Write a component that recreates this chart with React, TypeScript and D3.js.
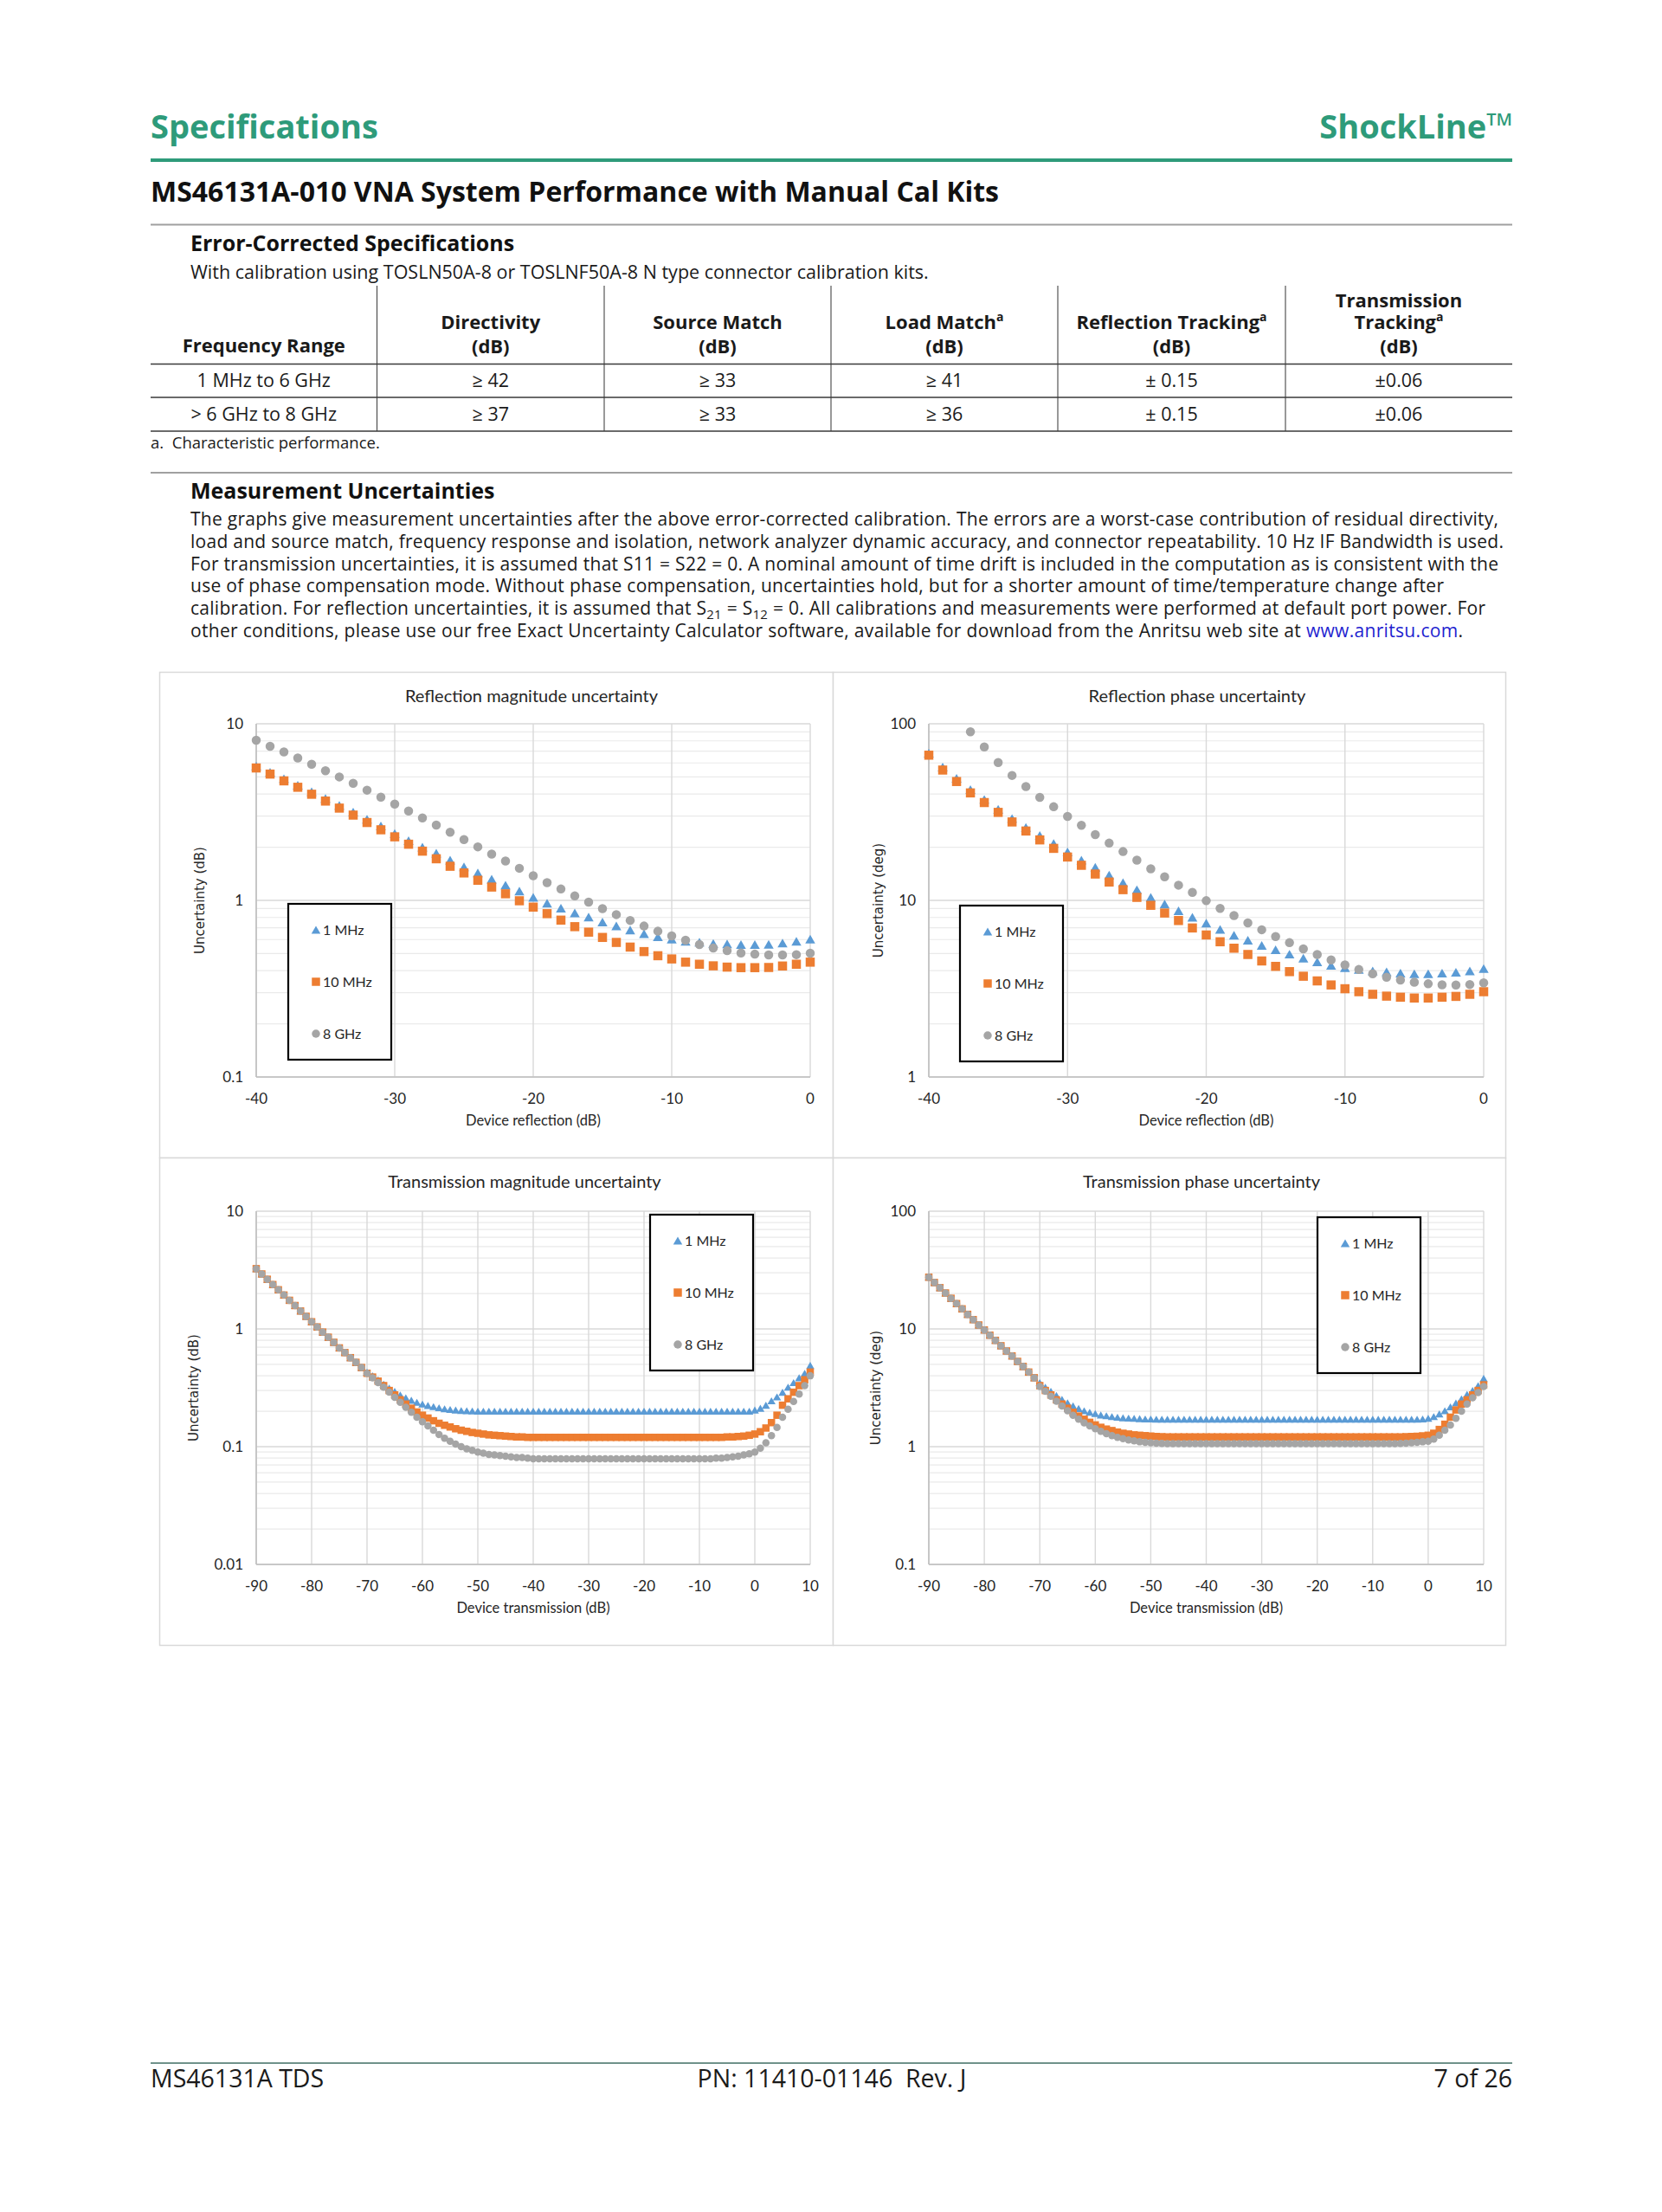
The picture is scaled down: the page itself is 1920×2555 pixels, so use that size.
import React from 'react';
import * as d3 from 'd3';

// ---------------- DATA ----------------
const REFL_X = [-40,-39,-38,-37,-36,-35,-34,-33,-32,-31,-30,-29,-28,-27,-26,-25,-24,-23,-22,-21,-20,-19,-18,-17,-16,-15,-14,-13,-12,-11,-10,-9,-8,-7,-6,-5,-4,-3,-2,-1,0];
const REFL_X_8GHZ_PHASE = [-37,-36,-35,-34,-33,-32,-31,-30,-29,-28,-27,-26,-25,-24,-23,-22,-21,-20,-19,-18,-17,-16,-15,-14,-13,-12,-11,-10,-9,-8,-7,-6,-5,-4,-3,-2,-1,0];

const RM_1MHZ = [5.76,5.32,4.89,4.49,4.12,3.78,3.45,3.16,2.88,2.64,2.39,2.18,2.00,1.85,1.69,1.55,1.43,1.32,1.22,1.13,1.04,0.964,0.904,0.848,0.805,0.755,0.716,0.680,0.647,0.622,0.604,0.587,0.580,0.571,0.567,0.562,0.562,0.564,0.574,0.587,0.603];
const RM_10MHZ = [5.62,5.19,4.75,4.37,3.99,3.65,3.33,3.04,2.76,2.51,2.29,2.08,1.90,1.72,1.56,1.43,1.30,1.19,1.09,0.995,0.916,0.841,0.773,0.710,0.661,0.617,0.578,0.544,0.513,0.486,0.466,0.447,0.435,0.426,0.419,0.416,0.416,0.417,0.425,0.435,0.447];
const RM_8GHZ = [8.07,7.45,6.93,6.40,5.90,5.42,5.00,4.60,4.21,3.84,3.51,3.21,2.93,2.67,2.43,2.21,2.01,1.83,1.67,1.52,1.38,1.26,1.16,1.06,0.977,0.898,0.831,0.770,0.716,0.669,0.629,0.595,0.562,0.538,0.519,0.504,0.496,0.491,0.491,0.493,0.502];

const RP_1MHZ = [68.2,56.9,49.1,42.4,37.3,32.8,29.1,25.9,23.3,21.0,18.8,16.9,15.4,13.9,12.6,11.5,10.4,9.53,8.73,8.02,7.43,6.85,6.35,5.95,5.56,5.25,4.96,4.71,4.49,4.29,4.16,4.06,3.99,3.94,3.87,3.84,3.84,3.87,3.92,3.99,4.11];
const RP_10MHZ = [66.4,54.7,47.1,40.6,35.8,31.5,27.8,24.7,22.0,19.7,17.6,15.8,14.1,12.7,11.5,10.4,9.38,8.48,7.69,6.98,6.37,5.83,5.36,4.94,4.54,4.23,3.95,3.72,3.50,3.32,3.16,3.04,2.94,2.87,2.83,2.80,2.80,2.83,2.86,2.94,3.04];
const RP_8GHZ = [90.1,74.0,60.4,51.0,44.1,38.3,33.9,29.9,26.6,23.6,21.1,18.9,16.9,15.1,13.6,12.2,11.1,9.96,9.01,8.21,7.45,6.82,6.24,5.76,5.32,4.94,4.60,4.31,4.06,3.84,3.67,3.54,3.44,3.37,3.33,3.32,3.34,3.41];

const TRANS_X = [-90,-89,-88,-87,-86,-85,-84,-83,-82,-81,-80,-79,-78,-77,-76,-75,-74,-73,-72,-71,-70,-69,-68,-67,-66,-65,-64,-63,-62,-61,-60,-59,-58,-57,-56,-55,-54,-53,-52,-51,-50,-49,-48,-47,-46,-45,-44,-43,-42,-41,-40,-39,-38,-37,-36,-35,-34,-33,-32,-31,-30,-29,-28,-27,-26,-25,-24,-23,-22,-21,-20,-19,-18,-17,-16,-15,-14,-13,-12,-11,-10,-9,-8,-7,-6,-5,-4,-3,-2,-1,0,1,2,3,4,5,6,7,8,9,10];

const TM_1MHZ = [
  3.25,2.93,2.64,2.38,2.15,1.94,1.75,1.58,1.42,1.28,
  1.15,1.04,0.94,0.85,0.77,0.69,0.63,0.57,0.52,0.47,
  0.43,0.40,0.37,0.34,0.315,0.295,0.275,0.26,0.248,0.238,
  0.23,0.224,0.219,0.214,0.21,0.207,0.205,0.203,0.202,0.201,
  0.2,0.2,0.2,0.2,0.2,0.2,0.2,0.2,0.2,0.2,
  0.2,0.2,0.2,0.2,0.2,0.2,0.2,0.2,0.2,0.2,
  0.2,0.2,0.2,0.2,0.2,0.2,0.2,0.2,0.2,0.2,
  0.2,0.2,0.2,0.2,0.2,0.2,0.2,0.2,0.2,0.2,
  0.2,0.2,0.2,0.2,0.2,0.2,0.2,0.2,0.2,0.2,
  0.205,0.212,0.225,0.245,0.265,0.29,0.32,0.35,0.385,0.42,
  0.49];
const TM_10MHZ = [
  3.25,2.93,2.64,2.38,2.15,1.94,1.75,1.58,1.42,1.28,
  1.15,1.04,0.94,0.85,0.77,0.69,0.63,0.57,0.52,0.47,
  0.42,0.39,0.36,0.33,0.30,0.275,0.25,0.23,0.212,0.197,
  0.185,0.175,0.166,0.158,0.152,0.147,0.142,0.138,0.135,0.132,
  0.13,0.128,0.126,0.125,0.124,0.123,0.122,0.121,0.121,0.12,
  0.12,0.12,0.12,0.12,0.12,0.12,0.12,0.12,0.12,0.12,
  0.12,0.12,0.12,0.12,0.12,0.12,0.12,0.12,0.12,0.12,
  0.12,0.12,0.12,0.12,0.12,0.12,0.12,0.12,0.12,0.12,
  0.12,0.12,0.12,0.12,0.12,0.121,0.121,0.122,0.123,0.125,
  0.128,0.134,0.144,0.16,0.185,0.225,0.255,0.29,0.33,0.37,
  0.43];
const TM_8GHZ = [
  3.25,2.93,2.64,2.38,2.15,1.94,1.75,1.58,1.42,1.28,
  1.15,1.04,0.94,0.85,0.77,0.69,0.63,0.57,0.52,0.47,
  0.42,0.385,0.35,0.32,0.29,0.262,0.238,0.216,0.196,0.178,
  0.163,0.15,0.138,0.127,0.118,0.111,0.105,0.1,0.096,0.093,
  0.09,0.088,0.086,0.085,0.084,0.083,0.082,0.081,0.081,0.08,
  0.079,0.079,0.079,0.079,0.079,0.079,0.079,0.079,0.079,0.079,
  0.079,0.079,0.079,0.079,0.079,0.079,0.079,0.079,0.079,0.079,
  0.079,0.079,0.079,0.079,0.079,0.079,0.079,0.079,0.079,0.079,
  0.079,0.079,0.079,0.08,0.08,0.081,0.082,0.083,0.085,0.087,
  0.09,0.097,0.108,0.124,0.146,0.178,0.208,0.242,0.28,0.33,
  0.40];

const TP_1MHZ = [
  27.5,24.8,22.4,20.2,18.2,16.4,14.8,13.3,12.0,10.8,
  9.8,8.85,8.0,7.2,6.5,5.9,5.3,4.8,4.3,3.85,
  3.5,3.2,2.95,2.72,2.52,2.36,2.22,2.11,2.02,1.96,
  1.91,1.86,1.83,1.8,1.78,1.76,1.75,1.74,1.73,1.72,
  1.72,1.71,1.71,1.71,1.71,1.71,1.71,1.71,1.71,1.71,
  1.71,1.71,1.71,1.71,1.71,1.71,1.71,1.71,1.71,1.71,
  1.71,1.71,1.71,1.71,1.71,1.71,1.71,1.71,1.71,1.71,
  1.71,1.71,1.71,1.71,1.71,1.71,1.71,1.71,1.71,1.71,
  1.71,1.71,1.71,1.71,1.71,1.71,1.71,1.71,1.71,1.72,
  1.74,1.8,1.9,2.02,2.18,2.35,2.55,2.78,3.0,3.3,
  3.8];
const TP_10MHZ = [
  27.5,24.8,22.4,20.2,18.2,16.4,14.8,13.3,12.0,10.8,
  9.8,8.85,8.0,7.2,6.5,5.9,5.3,4.8,4.3,3.85,
  3.3,3.0,2.75,2.5,2.3,2.12,1.96,1.82,1.71,1.61,
  1.53,1.46,1.41,1.37,1.33,1.3,1.28,1.26,1.25,1.24,
  1.23,1.22,1.215,1.21,1.21,1.21,1.21,1.21,1.21,1.21,
  1.21,1.21,1.21,1.21,1.21,1.21,1.21,1.21,1.21,1.21,
  1.21,1.21,1.21,1.21,1.21,1.21,1.21,1.21,1.21,1.21,
  1.21,1.21,1.21,1.21,1.21,1.21,1.21,1.21,1.21,1.21,
  1.21,1.21,1.21,1.21,1.21,1.21,1.215,1.22,1.225,1.235,
  1.25,1.3,1.4,1.55,1.78,2.05,2.3,2.5,2.75,3.0,
  3.35];
const TP_8GHZ = [
  27.5,24.8,22.4,20.2,18.2,16.4,14.8,13.3,12.0,10.8,
  9.8,8.85,8.0,7.2,6.5,5.9,5.3,4.8,4.3,3.85,
  3.25,2.95,2.68,2.43,2.22,2.02,1.85,1.71,1.59,1.5,
  1.42,1.35,1.29,1.24,1.2,1.17,1.14,1.12,1.1,1.09,
  1.08,1.07,1.065,1.06,1.06,1.06,1.06,1.06,1.06,1.06,
  1.06,1.06,1.06,1.06,1.06,1.06,1.06,1.06,1.06,1.06,
  1.06,1.06,1.06,1.06,1.06,1.06,1.06,1.06,1.06,1.06,
  1.06,1.06,1.06,1.06,1.06,1.06,1.06,1.06,1.06,1.06,
  1.06,1.06,1.06,1.06,1.06,1.065,1.07,1.08,1.09,1.1,
  1.11,1.16,1.25,1.38,1.53,1.74,2.0,2.3,2.6,2.88,
  3.25];

const SERIES_NAMES = ['1 MHz', '10 MHz', '8 GHz'];
const REFL_X_TICKS = [-40, -30, -20, -10, 0];
const TRANS_X_TICKS = [-90, -80, -70, -60, -50, -40, -30, -20, -10, 0, 10];

const TABLE_HEAD = [
  ['Frequency Range'],
  ['Directivity', '(dB)'],
  ['Source Match', '(dB)'],
  ['Load Match|a', '(dB)'],
  ['Reflection Tracking|a', '(dB)'],
  ['Transmission', 'Tracking|a', '(dB)'],
];
const TABLE_ROWS = [
  ['1 MHz to 6 GHz', '≥ 42', '≥ 33', '≥ 41', '± 0.15', '±0.06'],
  ['> 6 GHz to 8 GHz', '≥ 37', '≥ 33', '≥ 36', '± 0.15', '±0.06'],
];

// ---------------- STYLE ----------------
const GREEN = '#2E9B7A';
const C_BLUE = '#5B9BD5';
const C_ORANGE = '#ED7D31';
const C_GRAY = '#A5A5A5';
const DOC_FONT = "'Open Sans', 'Noto Sans', sans-serif";
const CHART_FONT = "Lato, 'Open Sans', sans-serif";

type Kind = 'tri' | 'sq' | 'circ';

function Marker({ kind, cx, cy, s, color }: { kind: Kind; cx: number; cy: number; s: number; color: string }) {
  if (kind === 'circ') return <circle cx={cx} cy={cy} r={s / 2} fill={color} />;
  if (kind === 'sq') return <rect x={cx - s / 2} y={cy - s / 2} width={s} height={s} fill={color} />;
  const h = s * 0.95;
  return <path d={`M${cx},${cy - h / 2}L${cx + s / 2 + 0.5},${cy + h / 2}L${cx - s / 2 - 0.5},${cy + h / 2}Z`} fill={color} />;
}

type ChartProps = {
  cell: [number, number, number, number];
  plot: { x0: number; x1: number; y0: number; y1: number };
  xDomain: [number, number];
  xTicks: number[];
  yDomain: [number, number];
  title: string;
  titleX: number;
  xTitle: string;
  yTitle: string;
  yTitleX: number;
  series: { x: number[]; y: number[]; kind: Kind; color: string; name: string }[];
  legend: [number, number];
  ms: number;
};

function fmt(v: number) {
  if (v >= 1) return String(Math.round(v));
  return String(+v.toPrecision(1));
}

function Chart(p: ChartProps) {
  const x = d3.scaleLinear().domain(p.xDomain).range([p.plot.x0, p.plot.x1]);
  const y = d3.scaleLog().domain(p.yDomain).range([p.plot.y1, p.plot.y0]);
  const majors: number[] = [];
  const minors: number[] = [];
  for (let d = p.yDomain[0]; d <= p.yDomain[1] * 1.0001; d *= 10) {
    majors.push(+d.toPrecision(3));
    if (d < p.yDomain[1] * 0.999) for (let k = 2; k <= 9; k++) minors.push(+(k * d).toPrecision(3));
  }
  const [cx, cy, cw, ch] = p.cell;
  const pc = (p.plot.y0 + p.plot.y1) / 2;
  const [lx, ly] = p.legend;
  return (
    <g>
      <rect x={cx + 0.5} y={cy + 0.5} width={cw} height={ch} fill="#fff" stroke="#D9D9D9" strokeWidth={1.5} />
      <text x={p.titleX} y={cy + 35} textAnchor="middle" fontFamily={CHART_FONT} fontSize={20} fill="#262626">{p.title}</text>
      {minors.map((v, i) => (
        <line key={'mn' + i} x1={p.plot.x0} x2={p.plot.x1} y1={y(v)} y2={y(v)} stroke="#EAEAEA" strokeWidth={1.2} />
      ))}
      {p.xTicks.map((t) => (
        <line key={'vx' + t} x1={x(t)} x2={x(t)} y1={p.plot.y0} y2={p.plot.y1} stroke="#D9D9D9" strokeWidth={1.4} />
      ))}
      {majors.map((v, i) => (
        <line key={'mj' + i} x1={p.plot.x0} x2={p.plot.x1} y1={y(v)} y2={y(v)} stroke="#D9D9D9" strokeWidth={1.4} />
      ))}
      <line x1={p.plot.x0} x2={p.plot.x0} y1={p.plot.y0} y2={p.plot.y1} stroke="#BFBFBF" strokeWidth={1.6} />
      <line x1={p.plot.x0} x2={p.plot.x1} y1={p.plot.y1} y2={p.plot.y1} stroke="#BFBFBF" strokeWidth={1.6} />
      {majors.map((v, i) => (
        <text key={'yl' + i} x={p.plot.x0 - 15} y={y(v) + 6} textAnchor="end" fontFamily={CHART_FONT} fontSize={17} fill="#262626">{fmt(v)}</text>
      ))}
      {p.xTicks.map((t) => (
        <text key={'xl' + t} x={x(t)} y={p.plot.y1 + 31} textAnchor="middle" fontFamily={CHART_FONT} fontSize={17} fill="#262626">{t}</text>
      ))}
      <text x={(p.plot.x0 + p.plot.x1) / 2} y={p.plot.y1 + 56} textAnchor="middle" fontFamily={CHART_FONT} fontSize={16.5} fill="#262626">{p.xTitle}</text>
      <text transform={`translate(${p.yTitleX},${pc}) rotate(-90)`} textAnchor="middle" dominantBaseline="central" fontFamily="'DejaVu Sans', Verdana, sans-serif" fontSize={15} fill="#262626">{p.yTitle}</text>
      {p.series.map((s, si) => (
        <g key={'s' + si}>
          {s.x.map((xv, i) => {
            const v = s.y[i];
            if (v === undefined || v < p.yDomain[0] || v > p.yDomain[1]) return null;
            return <Marker key={i} kind={s.kind} cx={x(xv)} cy={y(v)} s={p.ms} color={s.color} />;
          })}
        </g>
      ))}
      <rect x={lx} y={ly} width={119} height={180} fill="#fff" stroke="#000" strokeWidth={2.2} />
      {p.series.map((s, si) => (
        <g key={'lg' + si}>
          <Marker kind={s.kind} cx={lx + 32} cy={ly + 30 + si * 60} s={9.5} color={s.color} />
          <text x={lx + 40} y={ly + 36 + si * 60} fontFamily={CHART_FONT} fontSize={16} fill="#262626">{s.name}</text>
        </g>
      ))}
    </g>
  );
}

function HeadCell({ lines, cx }: { lines: string[]; cx: number }) {
  const ys = lines.length === 3 ? [355, 380, 408] : lines.length === 2 ? [380, 408] : [407];
  return (
    <>
      {lines.map((l, i) => {
        const [main, sup] = l.split('|');
        return (
          <text key={i} x={cx} y={ys[i]} textAnchor="middle" fontFamily={DOC_FONT} fontWeight={700} fontSize={22} fill="#1a1a1a">
            {main}
            {sup ? <tspan fontSize={14} dy={-9}>{sup}</tspan> : null}
          </text>
        );
      })}
    </>
  );
}

const PARA_LINES = [
  'The graphs give measurement uncertainties after the above error-corrected calibration. The errors are a worst-case contribution of residual directivity,',
  'load and source match, frequency response and isolation, network analyzer dynamic accuracy, and connector repeatability. 10 Hz IF Bandwidth is used.',
  'For transmission uncertainties, it is assumed that S11 = S22 = 0. A nominal amount of time drift is included in the computation as is consistent with the',
  'use of phase compensation mode. Without phase compensation, uncertainties hold, but for a shorter amount of time/temperature change after',
];

export default function App() {
  const colX = [174, 435.5, 698, 960, 1222, 1485, 1747];
  const mkSeries = (xs: number[][], ys: number[][]) => [
    { x: xs[0], y: ys[0], kind: 'tri' as Kind, color: C_BLUE, name: SERIES_NAMES[0] },
    { x: xs[1], y: ys[1], kind: 'sq' as Kind, color: C_ORANGE, name: SERIES_NAMES[1] },
    { x: xs[2], y: ys[2], kind: 'circ' as Kind, color: C_GRAY, name: SERIES_NAMES[2] },
  ];
  const paraEnds = [1731, 1737, 1731, 1668];
  const PF = 21;
  return (
    <svg width={1920} height={2555} style={{ position: 'absolute', left: 0, top: 0, background: '#fff' }} xmlns="http://www.w3.org/2000/svg">
      <rect x={0} y={0} width={1920} height={2555} fill="#fff" />
      {/* Header */}
      <text x={174} y={160} fontFamily={DOC_FONT} fontWeight={700} fontSize={38} fill={GREEN}>Specifications</text>
      <text x={1747} y={160} textAnchor="end" fontFamily={DOC_FONT} fontWeight={700} fontSize={38} fill={GREEN}>
        ShockLine<tspan fontSize={20} fontWeight={600} dy={-15}>TM</tspan>
      </text>
      <rect x={174} y={183} width={1573} height={4} fill={GREEN} />
      <text x={174} y={233} fontFamily={DOC_FONT} fontWeight={700} fontSize={32} fill="#111">MS46131A-010 VNA System Performance with Manual Cal Kits</text>
      <rect x={174} y={258.5} width={1573} height={2} fill="#A0A0A0" />
      <text x={220} y={290} fontFamily={DOC_FONT} fontWeight={700} fontSize={25} fill="#111">Error-Corrected Specifications</text>
      <text x={220} y={322} fontFamily={DOC_FONT} fontSize={21.5} fill="#1a1a1a">With calibration using TOSLN50A-8 or TOSLNF50A-8 N type connector calibration kits.</text>

      {/* Table */}
      {TABLE_HEAD.map((lines, i) => (
        <HeadCell key={i} lines={lines} cx={(colX[i] + colX[i + 1]) / 2} />
      ))}
      {colX.slice(1, 6).map((cx, i) => (
        <line key={'cv' + i} x1={cx} x2={cx} y1={330} y2={498} stroke="#444" strokeWidth={1.1} />
      ))}
      <line x1={174} x2={1747} y1={420.5} y2={420.5} stroke="#3a3a3a" strokeWidth={1.6} />
      <line x1={174} x2={1747} y1={459} y2={459} stroke="#3a3a3a" strokeWidth={1.3} />
      <line x1={174} x2={1747} y1={498} y2={498} stroke="#3a3a3a" strokeWidth={1.6} />
      {TABLE_ROWS.map((row, r) =>
        row.map((cell, c) => (
          <text key={r + '-' + c} x={(colX[c] + colX[c + 1]) / 2} y={r === 0 ? 447 : 486} textAnchor="middle" fontFamily={DOC_FONT} fontSize={21.5} fill="#1a1a1a">{cell}</text>
        ))
      )}
      <text x={174} y={518} fontFamily={DOC_FONT} fontSize={18.5} fill="#1a1a1a" style={{ whiteSpace: 'pre' }}>a.  Characteristic performance.</text>
      <rect x={174} y={545} width={1573} height={2} fill="#A0A0A0" />
      <text x={220} y={576} fontFamily={DOC_FONT} fontWeight={700} fontSize={25} fill="#111">Measurement Uncertainties</text>
      {PARA_LINES.map((l, i) => (
        <text key={'p' + i} x={220} y={607 + i * 25.8} fontFamily={DOC_FONT} fontSize={PF} fill="#1a1a1a" textLength={paraEnds[i] - 220} lengthAdjust="spacing">{l}</text>
      ))}
      <text x={220} y={607 + 4 * 25.8} fontFamily={DOC_FONT} fontSize={PF} fill="#1a1a1a" textLength={1716 - 220} lengthAdjust="spacing">
        calibration. For reflection uncertainties, it is assumed that S<tspan fontSize={15} dy={5}>21</tspan><tspan dy={-5}> = S</tspan><tspan fontSize={15} dy={5}>12</tspan><tspan dy={-5}> = 0. All calibrations and measurements were performed at default port power. For</tspan>
      </text>
      <text x={220} y={607 + 5 * 25.8} fontFamily={DOC_FONT} fontSize={PF} fill="#1a1a1a" textLength={1690 - 220} lengthAdjust="spacing">
        other conditions, please use our free Exact Uncertainty Calculator software, available for download from the Anritsu web site at <tspan fill="#1F1FD0">www.anritsu.com</tspan>.
      </text>

      {/* Charts */}
      <Chart
        cell={[184, 776, 778, 561]}
        plot={{ x0: 296, x1: 936, y0: 836, y1: 1244 }}
        xDomain={[-40, 0]} xTicks={REFL_X_TICKS} yDomain={[0.1, 10]}
        title="Reflection magnitude uncertainty" titleX={614}
        xTitle="Device reflection (dB)" yTitle="Uncertainty (dB)" yTitleX={231}
        series={mkSeries([REFL_X, REFL_X, REFL_X], [RM_1MHZ, RM_10MHZ, RM_8GHZ])}
        legend={[333, 1044]} ms={10.5}
      />
      <Chart
        cell={[962, 776, 777, 561]}
        plot={{ x0: 1073, x1: 1714, y0: 836, y1: 1244 }}
        xDomain={[-40, 0]} xTicks={REFL_X_TICKS} yDomain={[1, 100]}
        title="Reflection phase uncertainty" titleX={1383}
        xTitle="Device reflection (dB)" yTitle="Uncertainty (deg)" yTitleX={1015}
        series={mkSeries([REFL_X, REFL_X, REFL_X_8GHZ_PHASE], [RP_1MHZ, RP_10MHZ, RP_8GHZ])}
        legend={[1109, 1046]} ms={10.5}
      />
      <Chart
        cell={[184, 1337, 778, 563]}
        plot={{ x0: 296, x1: 936, y0: 1399, y1: 1807 }}
        xDomain={[-90, 10]} xTicks={TRANS_X_TICKS} yDomain={[0.01, 10]}
        title="Transmission magnitude uncertainty" titleX={606}
        xTitle="Device transmission (dB)" yTitle="Uncertainty (dB)" yTitleX={224}
        series={mkSeries([TRANS_X, TRANS_X, TRANS_X], [TM_1MHZ, TM_10MHZ, TM_8GHZ])}
        legend={[751, 1403]} ms={8.5}
      />
      <Chart
        cell={[962, 1337, 777, 563]}
        plot={{ x0: 1073, x1: 1714, y0: 1399, y1: 1807 }}
        xDomain={[-90, 10]} xTicks={TRANS_X_TICKS} yDomain={[0.1, 100]}
        title="Transmission phase uncertainty" titleX={1388}
        xTitle="Device transmission (dB)" yTitle="Uncertainty (deg)" yTitleX={1012}
        series={mkSeries([TRANS_X, TRANS_X, TRANS_X], [TP_1MHZ, TP_10MHZ, TP_8GHZ])}
        legend={[1522, 1406]} ms={8.5}
      />

      {/* Footer */}
      <rect x={174} y={2382} width={1573} height={2} fill="#6F928A" />
      <text x={174} y={2411} fontFamily={DOC_FONT} fontSize={28.5} fill="#1a1a1a">MS46131A TDS</text>
      <text x={961} y={2411} textAnchor="middle" fontFamily={DOC_FONT} fontSize={28.5} fill="#1a1a1a" style={{ whiteSpace: 'pre' }}>PN: 11410-01146  Rev. J</text>
      <text x={1747} y={2411} textAnchor="end" fontFamily={DOC_FONT} fontSize={28.5} fill="#1a1a1a">7 of 26</text>
    </svg>
  );
}
